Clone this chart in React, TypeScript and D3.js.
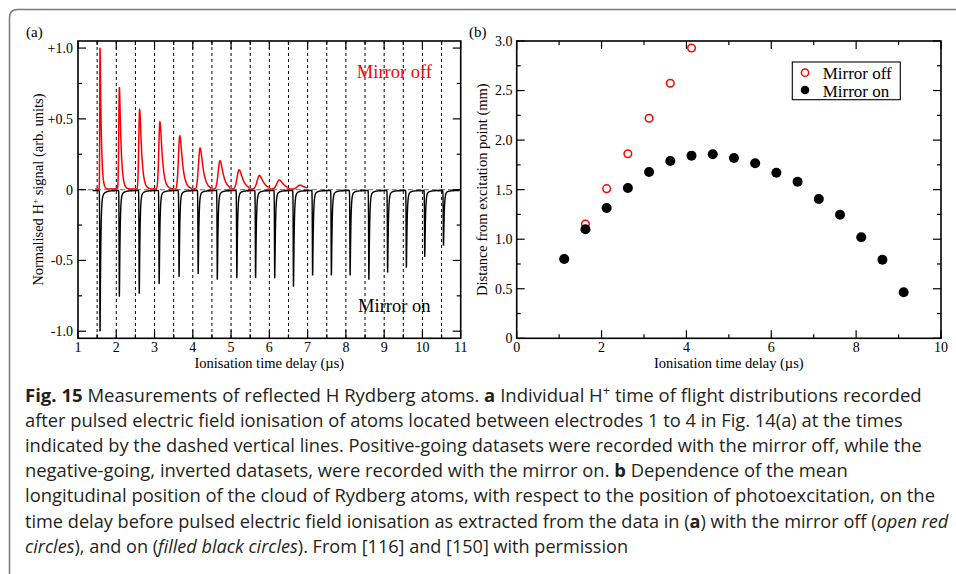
import React from 'react';
import * as d3 from 'd3';

// ---------- Panel (a) data ----------
const delayTimes = [1.5, 2, 2.5, 3, 3.5, 4, 4.5, 5, 5.5, 6, 6.5, 7, 7.5, 8, 8.5, 9, 9.5, 10, 10.5];
// Mirror off (positive-going, red)
const offPeakTimes = [1.575, 2.08, 2.61, 3.14, 3.66, 4.19, 4.71, 5.21, 5.74, 6.26, 6.8];
const offPeakHeights = [1.0, 0.72, 0.56, 0.475, 0.376, 0.29, 0.2, 0.136, 0.096, 0.064, 0.028];
const offPeakRise = [0.007, 0.015, 0.022, 0.029, 0.035, 0.041, 0.047, 0.053, 0.058, 0.063, 0.068];
const offPeakDecay = [0.03, 0.04, 0.048, 0.056, 0.064, 0.072, 0.08, 0.088, 0.095, 0.1, 0.105];
// Mirror on (negative-going, black)
const onPeakTimes = [1.575, 2.08, 2.6, 3.12, 3.64, 4.14, 4.64, 5.15, 5.64, 6.14, 6.63, 7.13, 7.62, 8.11, 8.6, 9.09, 9.58, 10.06, 10.55];
const onPeakDepths = [1.0, 0.75, 0.73, 0.66, 0.61, 0.59, 0.63, 0.62, 0.62, 0.62, 0.68, 0.6, 0.6, 0.6, 0.63, 0.58, 0.545, 0.47, 0.39];

const aYTicks = [1, 0.5, 0, -0.5, -1];
const aYTickLabels = ['+1.0', '+0.5', '0', '-0.5', '-1.0'];
const aYMinor = [0.75, 0.25, -0.25, -0.75];
const aXTicks = [1, 2, 3, 4, 5, 6, 7, 8, 9, 10, 11];
const aXMinor = [1.5, 2.5, 3.5, 4.5, 5.5, 6.5, 7.5, 8.5, 9.5, 10.5];

// ---------- Panel (b) data ----------
const onTimes = [1.12, 1.62, 2.12, 2.62, 3.12, 3.62, 4.12, 4.62, 5.12, 5.62, 6.12, 6.62, 7.12, 7.62, 8.12, 8.62, 9.12];
const onDist = [0.8, 1.1, 1.315, 1.517, 1.678, 1.79, 1.843, 1.857, 1.82, 1.766, 1.67, 1.58, 1.405, 1.247, 1.019, 0.793, 0.464];
const offTimes = [1.12, 1.62, 2.12, 2.62, 3.12, 3.62, 4.12];
const offDist = [0.8, 1.153, 1.51, 1.863, 2.22, 2.573, 2.93];

const bXTicks = [0, 2, 4, 6, 8, 10];
const bXMinor = [1, 3, 5, 7, 9];
const bYTicks = [0, 0.5, 1, 1.5, 2, 2.5, 3];
const bYTickLabels = ['0', '0.5', '1.0', '1.5', '2.0', '2.5', '3.0'];
const bYMinor = [0.25, 0.75, 1.25, 1.75, 2.25, 2.75];

const SERIF = 'Liberation Serif, Times New Roman, serif';
const SANS = 'Open Sans, Noto Sans, sans-serif';

function peakShape(dt: number, rise: number, tau: number) {
  if (dt < 0) return Math.exp(-0.5 * (dt / rise) * (dt / rise));
  return Math.exp(-(Math.sqrt(dt * dt + rise * rise) - rise) / tau);
}

function sampleRange(a: number, b: number, step: number) {
  const out: number[] = [];
  for (let t = a; t <= b + 1e-9; t += step) out.push(t);
  return out;
}

function Ticks({ x, y, xMajor, xMinor, yMajor, yMinor }: any) {
  const [x0, x1] = x.range();
  const [y0, y1] = y.range(); // y0 bottom, y1 top
  const M = 8, m = 4;
  const els: any[] = [];
  xMajor.forEach((v: number, i: number) => {
    const px = x(v);
    els.push(<line key={'xb' + i} x1={px} x2={px} y1={y0} y2={y0 - M} />);
    els.push(<line key={'xt' + i} x1={px} x2={px} y1={y1} y2={y1 + M} />);
  });
  xMinor.forEach((v: number, i: number) => {
    const px = x(v);
    els.push(<line key={'xbm' + i} x1={px} x2={px} y1={y0} y2={y0 - m} />);
    els.push(<line key={'xtm' + i} x1={px} x2={px} y1={y1} y2={y1 + m} />);
  });
  yMajor.forEach((v: number, i: number) => {
    const py = y(v);
    els.push(<line key={'yl' + i} x1={x0} x2={x0 + M} y1={py} y2={py} />);
    els.push(<line key={'yr' + i} x1={x1} x2={x1 - M} y1={py} y2={py} />);
  });
  yMinor.forEach((v: number, i: number) => {
    const py = y(v);
    els.push(<line key={'ylm' + i} x1={x0} x2={x0 + m} y1={py} y2={py} />);
    els.push(<line key={'yrm' + i} x1={x1} x2={x1 - m} y1={py} y2={py} />);
  });
  return <g stroke="#000" strokeWidth={1.2}>{els}</g>;
}

export default function App() {
  // Panel (a) scales
  const xA = d3.scaleLinear().domain([1, 11]).range([78, 460.7]);
  const yA = d3.scaleLinear().domain([-1.05, 1.05]).range([338.3, 41]);
  // Panel (b) scales
  const xB = d3.scaleLinear().domain([0, 10]).range([516.7, 941]);
  const yB = d3.scaleLinear().domain([0, 3]).range([338.3, 41]);

  const lineA = d3.line<[number, number]>().x(d => xA(d[0])).y(d => yA(d[1]));

  const onTraces = onPeakTimes.map((t0, i) => {
    const start = Math.max(1.3, delayTimes[i] - 0.12);
    const end = Math.min(11, delayTimes[i] + 0.47);
    const pts: [number, number][] = sampleRange(start, end, 0.002).map(t => {
      const dt = t - t0;
      const v = -onPeakDepths[i] * (0.94 * peakShape(dt, 0.006, 0.016) + 0.06 * peakShape(dt, 0.006, 0.09)) - 0.006;
      return [t, v];
    });
    return lineA(pts) as string;
  });

  const offTraces = offPeakTimes.map((t0, i) => {
    const start = delayTimes[i] - 0.05;
    const end = delayTimes[i] + 0.48;
    const pts: [number, number][] = sampleRange(start, end, 0.002).map(t => {
      const dt = t - t0;
      const v = offPeakHeights[i] * peakShape(dt, offPeakRise[i], offPeakDecay[i]) + 0.004;
      return [t, v];
    });
    return lineA(pts) as string;
  });

  const capLines = [401.5, 426.7, 451.9, 477.1, 502.3, 527.5, 552.7];
  const capX = 25;
  const capEnds = [921.7, 902.7, 921.7, 847.7, 935, 948.3, 628];

  return (
    <svg width={956} height={574} style={{ position: 'absolute', left: 0, top: 0, background: '#fff' }}>
      <rect x={0} y={0} width={956} height={574} fill="#fff" />
      {/* outer frame */}
      <path d="M9.5,574 L9.5,17.5 Q9.5,9.5 17.5,9.5 L960,9.5" fill="none" stroke="#7a7a7a" strokeWidth={1.5} />

      {/* ---------------- Panel (a) ---------------- */}
      <g>
        {delayTimes.map((t, i) => (
          <line key={'dl' + i} x1={xA(t)} x2={xA(t)} y1={yA(1.05)} y2={yA(-1.05)} stroke="#000" strokeWidth={1} strokeDasharray="3,3" />
        ))}
        <line x1={xA(1.05)} x2={xA(11)} y1={yA(0)} y2={yA(0)} stroke="#8a8a8a" strokeWidth={1.4} strokeDasharray="5,3" />
        {onTraces.map((d, i) => (
          <path key={'on' + i} d={d} fill="none" stroke="#000" strokeWidth={1.4} />
        ))}
        {offTraces.map((d, i) => (
          <path key={'off' + i} d={d} fill="none" stroke="#ff0000" strokeWidth={1.5} />
        ))}
        <rect x={xA(1)} y={yA(1.05)} width={xA(11) - xA(1)} height={yA(-1.05) - yA(1.05)} fill="none" stroke="#000" strokeWidth={1.6} />
        <Ticks x={xA} y={yA} xMajor={aXTicks} xMinor={aXMinor} yMajor={aYTicks} yMinor={aYMinor} />
        <g fontFamily={SERIF} fontSize={14} fill="#000">
          {aYTicks.map((v, i) => (
            <text key={'ayl' + i} x={73} y={yA(v)} dy="0.35em" textAnchor="end">{aYTickLabels[i]}</text>
          ))}
          {aXTicks.map((v, i) => (
            <text key={'axl' + i} x={xA(v)} y={352} textAnchor="middle">{v}</text>
          ))}
        </g>
        <text x={(xA(1) + xA(11)) / 2} y={368} textAnchor="middle" fontFamily={SERIF} fontSize={14.5}>Ionisation time delay (µs)</text>
        <text transform={`translate(43,${(yA(1.05) + yA(-1.05)) / 2}) rotate(-90)`} textAnchor="middle" fontFamily={SERIF} fontSize={14.5}>
          Normalised H<tspan dy={-5} fontSize={9}>+</tspan><tspan dy={5}> signal (arb. units)</tspan>
        </text>
        <text x={26} y={37} fontFamily={SERIF} fontSize={15}>(a)</text>
        <text x={432} y={78.3} textAnchor="end" fontFamily={SERIF} fontSize={18.5} fill="#ff0000">Mirror off</text>
        <text x={430.5} y={311.5} textAnchor="end" fontFamily={SERIF} fontSize={18.5} fill="#000">Mirror on</text>
      </g>

      {/* ---------------- Panel (b) ---------------- */}
      <g>
        {offTimes.map((t, i) => (
          <circle key={'bo' + i} cx={xB(t)} cy={yB(offDist[i])} r={3.8} fill="none" stroke="#ff0000" strokeWidth={1.5} />
        ))}
        {onTimes.map((t, i) => (
          <circle key={'bn' + i} cx={xB(t)} cy={yB(onDist[i])} r={5} fill="#000" />
        ))}
        <rect x={xB(0)} y={yB(3)} width={xB(10) - xB(0)} height={yB(0) - yB(3)} fill="none" stroke="#000" strokeWidth={1.6} />
        <Ticks x={xB} y={yB} xMajor={bXTicks} xMinor={bXMinor} yMajor={bYTicks} yMinor={bYMinor} />
        <g fontFamily={SERIF} fontSize={14} fill="#000">
          {bYTicks.map((v, i) => (
            <text key={'byl' + i} x={512.5} y={yB(v)} dy="0.35em" textAnchor="end">{bYTickLabels[i]}</text>
          ))}
          {bXTicks.map((v, i) => (
            <text key={'bxl' + i} x={xB(v)} y={352} textAnchor="middle">{v}</text>
          ))}
        </g>
        <text x={(xB(0) + xB(10)) / 2} y={368} textAnchor="middle" fontFamily={SERIF} fontSize={14.5}>Ionisation time delay (µs)</text>
        <text transform={`translate(487,${(yB(0) + yB(3)) / 2}) rotate(-90)`} textAnchor="middle" fontFamily={SERIF} fontSize={14.5}>Distance from excitation point (mm)</text>
        <text x={469} y={37} fontFamily={SERIF} fontSize={15}>(b)</text>
        {/* legend */}
        <rect x={792.3} y={62} width={108} height={37.7} fill="#fff" stroke="#000" strokeWidth={1.1} />
        <circle cx={805} cy={72.7} r={3.6} fill="none" stroke="#ff0000" strokeWidth={1.5} />
        <circle cx={805} cy={90} r={4.3} fill="#000" />
        <g fontFamily={SERIF} fontSize={17} fill="#000">
          <text x={822.7} y={79.3}>Mirror off</text>
          <text x={822.7} y={96.5}>Mirror on</text>
        </g>
      </g>

      {/* ---------------- Caption ---------------- */}
      <g fontFamily={SANS} fontSize={17.5} fill="#231f20">
        <text x={capX} y={capLines[0]} textLength={capEnds[0] - capX} lengthAdjust="spacingAndGlyphs">
          <tspan fontWeight="bold">Fig. 15</tspan>{'  Measurements of reflected H Rydberg atoms. '}<tspan fontWeight="bold">a</tspan>{' Individual H'}<tspan dy={-7} fontSize={12}>+</tspan><tspan dy={7}>{' time of flight distributions recorded'}</tspan>
        </text>
        <text x={capX} y={capLines[1]} textLength={capEnds[1] - capX} lengthAdjust="spacingAndGlyphs">after pulsed electric field ionisation of atoms located between electrodes 1 to 4 in Fig. 14(a) at the times</text>
        <text x={capX} y={capLines[2]} textLength={capEnds[2] - capX} lengthAdjust="spacingAndGlyphs">indicated by the dashed vertical lines. Positive-going datasets were recorded with the mirror off, while the</text>
        <text x={capX} y={capLines[3]} textLength={capEnds[3] - capX} lengthAdjust="spacingAndGlyphs">
          {'negative-going, inverted datasets, were recorded with the mirror on. '}<tspan fontWeight="bold">b</tspan>{' Dependence of the mean'}
        </text>
        <text x={capX} y={capLines[4]} textLength={capEnds[4] - capX} lengthAdjust="spacingAndGlyphs">longitudinal position of the cloud of Rydberg atoms, with respect to the position of photoexcitation, on the</text>
        <text x={capX} y={capLines[5]} textLength={capEnds[5] - capX} lengthAdjust="spacingAndGlyphs">
          {'time delay before pulsed electric field ionisation as extracted from the data in ('}<tspan fontWeight="bold">a</tspan>{') with the mirror off ('}<tspan fontStyle="italic">open red</tspan>
        </text>
        <text x={capX} y={capLines[6]} textLength={capEnds[6] - capX} lengthAdjust="spacingAndGlyphs">
          <tspan fontStyle="italic">circles</tspan>{'), and on ('}<tspan fontStyle="italic">filled black circles</tspan>{'). From [116] and [150] with permission'}
        </text>
      </g>
    </svg>
  );
}
